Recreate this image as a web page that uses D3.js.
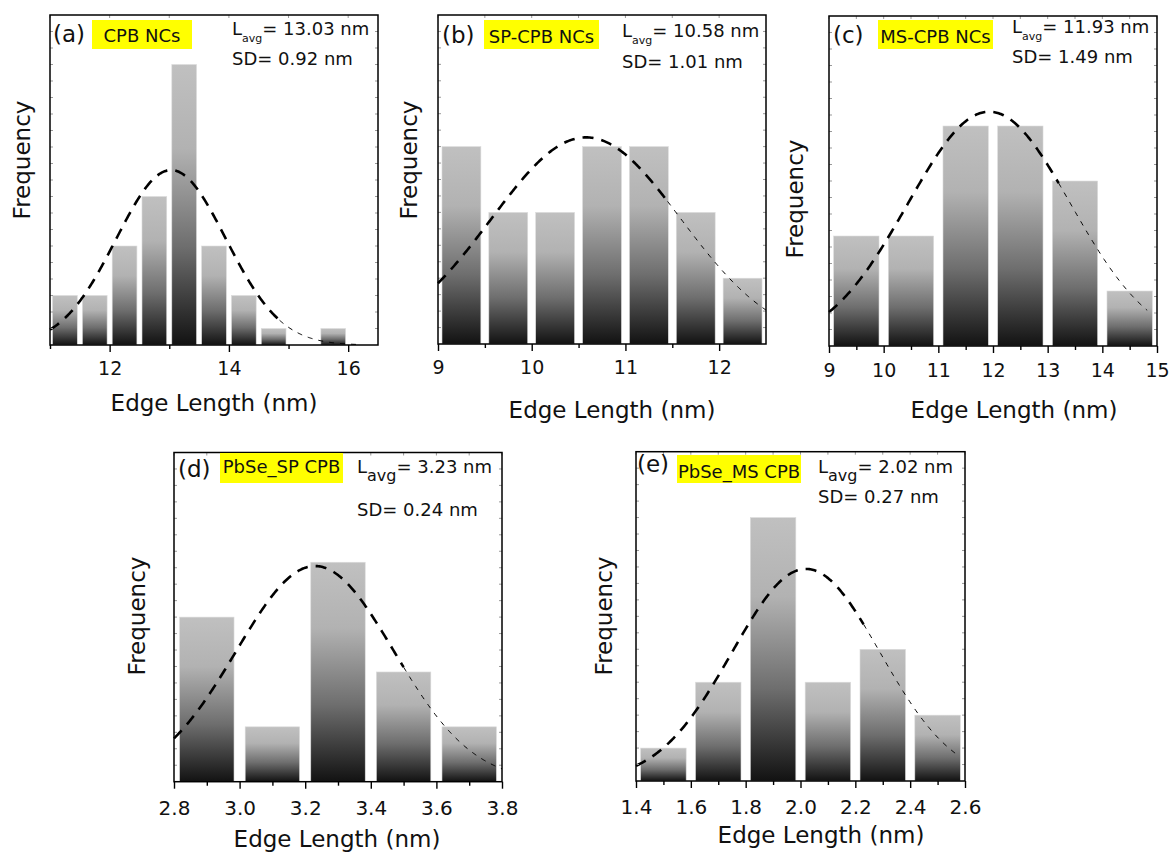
<!DOCTYPE html>
<html>
<head>
<meta charset="utf-8">
<script src="https://cdn.jsdelivr.net/npm/d3@7"></script>
<style>
  body { margin: 0; background: #fff; }
  svg text { font-family: "DejaVu Sans", Verdana, sans-serif; fill: #111; }
</style>
</head>
<body>
<script>
// ---- data ----
var panelTags   = ["(a)", "(b)", "(c)", "(d)", "(e)"];
var sampleNames = ["CPB NCs", "SP-CPB NCs", "MS-CPB NCs", "PbSe_SP CPB", "PbSe_MS CPB"];
var meanText    = ["13.03", "10.58", "11.93", "3.23", "2.02"];
var sdText      = ["0.92", "1.01", "1.49", "0.24", "0.27"];

var binStarts = [11, 9, 9, 2.8, 1.4];
var binWidths = [0.5, 0.5, 1, 0.2, 0.2];
var counts = [
    [3, 3, 6, 9, 17, 6, 3, 1, 0, 1],
    [3, 2, 2, 3, 3, 2, 1],
    [2, 2, 4, 4, 3, 1],
    [3, 1, 4, 2, 1],
    [1, 3, 8, 3, 4, 2]
];

var xDomains = [[11, 16.5], [9, 12.5], [9, 15], [2.8, 3.8], [1.4, 2.6]];
var yMax     = [20, 5, 6, 6, 10];
var xMajor = [
    [12, 14, 16],
    [9, 10, 11, 12],
    [9, 10, 11, 12, 13, 14, 15],
    [2.8, 3.0, 3.2, 3.4, 3.6, 3.8],
    [1.4, 1.6, 1.8, 2.0, 2.2, 2.4, 2.6]
];
var xMinor = [
    [11, 13, 15],
    [9.5, 10.5, 11.5],
    [9.5, 10.5, 11.5, 12.5, 13.5, 14.5],
    [2.9, 3.1, 3.3, 3.5, 3.7],
    [1.5, 1.7, 1.9, 2.1, 2.3, 2.5]
];
var xFormat = [d3.format("d"), d3.format("d"), d3.format("d"), d3.format(".1f"), d3.format(".1f")];
var yMinorStep = [1, 0.25, 0.3, 0.3, 0.5];

// gaussian fit: peak height, extent of the drawn curve
var fitPeak  = [10.6, 3.14, 4.26, 3.93, 6.44];
var fitRange = [[11, 16.2], [9, 12.5], [9, 14.82], [2.8, 3.8], [1.4, 2.57]];
var fitThinFrom = [14.85, 11.45, 13.2, 3.5, 2.23];

// ---- layout ----
var frames = [
    {left: 50,  right: 378,   top: 15,    bottom: 345},
    {left: 438, right: 766,   top: 15,    bottom: 344},
    {left: 829, right: 1157,  top: 16,    bottom: 346},
    {left: 174, right: 502,   top: 452.5, bottom: 781.7},
    {left: 636, right: 965,   top: 451.7, bottom: 781}
];
var labelPos = [
    {tag: [53, 42],  box: [92, 20, 100, 29],  name: 42,  lav: [232, 35], sub: 11, subDy: 7, sd: [232, 65],
     freq: [30, 160],  title: [214, 411],   tickFont: 19, tickOff: 30},
    {tag: [442, 43], box: [484, 20, 115, 29], name: 43,  lav: [622, 37], sub: 11, subDy: 7, sd: [622, 68],
     freq: [417, 160], title: [612, 418],   tickFont: 19, tickOff: 30},
    {tag: [833, 43], box: [878, 20, 115, 29], name: 43,  lav: [1012, 33], sub: 11, subDy: 7, sd: [1012, 63],
     freq: [803, 199], title: [1014, 418],  tickFont: 19, tickOff: 31},
    {tag: [178, 477], box: [220, 453, 123, 30], name: 473, lav: [357, 473], sub: 16, subDy: 8, sd: [357, 516],
     freq: [145, 616], title: [337, 847],   tickFont: 20, tickOff: 33},
    {tag: [637, 472], box: [677, 455, 124, 28], name: 478, lav: [818, 473], sub: 16, subDy: 8, sd: [818, 503],
     freq: [612, 616], title: [821, 843],   tickFont: 20, tickOff: 33}
];

var svg = d3.select("body").append("svg")
    .attr("width", 1172)
    .attr("height", 852);

var defs = svg.append("defs");
var grad = defs.append("linearGradient")
    .attr("id", "barGrad")
    .attr("x1", 0).attr("y1", 0).attr("x2", 0).attr("y2", 1);
[[0, "#c0c0c0"], [0.3, "#b2b2b2"], [0.65, "#6e6e6e"], [1, "#121212"]].forEach(function (s) {
    grad.append("stop").attr("offset", s[0]).attr("stop-color", s[1]);
});

panelTags.forEach(function (tag, i) {
    var f = frames[i], L = labelPos[i];
    var g = svg.append("g");

    var x = d3.scaleLinear().domain(xDomains[i]).range([f.left, f.right]);
    var y = d3.scaleLinear().domain([0, yMax[i]]).range([f.bottom, f.top]);
    var bw = binWidths[i];

    // bars
    var bins = counts[i].map(function (c, j) {
        return {x0: binStarts[i] + j * bw, c: c};
    }).filter(function (d) { return d.c > 0; });

    g.append("g").selectAll("rect")
        .data(bins)
        .enter().append("rect")
        .attr("x", function (d) { return x(d.x0 + bw * 0.085); })
        .attr("width", function (d) { return x(d.x0 + bw * 0.915) - x(d.x0 + bw * 0.085); })
        .attr("y", function (d) { return y(d.c); })
        .attr("height", function (d) { return y(0) - y(d.c); })
        .style("fill", "url(#barGrad)")
        .style("stroke", "#dcdcdc")
        .style("stroke-width", 0.6);

    // gaussian fit, thick dashes then thin dashes
    var mu = +meanText[i], sd = +sdText[i];
    var gauss = function (v) { return fitPeak[i] * Math.exp(-0.5 * Math.pow((v - mu) / sd, 2)); };
    var line = d3.line()
        .x(function (v) { return x(v); })
        .y(function (v) { return y(gauss(v)); });
    var lo = fitRange[i][0], hi = fitRange[i][1], cut = Math.min(fitThinFrom[i], hi);
    var thick = d3.range(lo, cut, (hi - lo) / 300).concat([cut]);
    var thin = d3.range(cut, hi, (hi - lo) / 300).concat([hi]);

    g.append("path")
        .attr("d", line(thick))
        .style("fill", "none")
        .style("stroke", "#000")
        .style("stroke-width", 2.6)
        .style("stroke-dasharray", "11,8");
    if (hi > cut) {
        g.append("path")
            .attr("d", line(thin))
            .style("fill", "none")
            .style("stroke", "#000")
            .style("stroke-width", 1)
            .style("stroke-dasharray", "5,6");
    }

    // faint inner ticks on left, right and top
    var yt = d3.range(yMinorStep[i], yMax[i], yMinorStep[i]);
    g.append("g").selectAll("line.yl")
        .data(yt).enter().append("line")
        .attr("x1", f.left).attr("x2", f.left + 3)
        .attr("y1", function (d) { return y(d); }).attr("y2", function (d) { return y(d); })
        .style("stroke", "#999").style("stroke-width", 1);
    g.append("g").selectAll("line.yr")
        .data(yt).enter().append("line")
        .attr("x1", f.right - 3).attr("x2", f.right)
        .attr("y1", function (d) { return y(d); }).attr("y2", function (d) { return y(d); })
        .style("stroke", "#999").style("stroke-width", 1);
    g.append("g").selectAll("line.xt")
        .data(xMajor[i].concat(xMinor[i])).enter().append("line")
        .attr("x1", function (d) { return x(d); }).attr("x2", function (d) { return x(d); })
        .attr("y1", f.top).attr("y2", f.top + 3)
        .style("stroke", "#999").style("stroke-width", 1);

    // bottom axis: major + minor
    var fs = L.tickFont;
    var axMaj = d3.axisBottom(x)
        .tickValues(xMajor[i])
        .tickFormat(xFormat[i])
        .tickSize(7)
        .tickSizeOuter(0)
        .tickPadding(L.tickOff - 7 - fs * 0.71);
    var ga = g.append("g")
        .attr("transform", "translate(0," + f.bottom + ")")
        .call(axMaj);
    ga.select(".domain").remove();
    ga.selectAll("line").style("stroke", "#000").style("stroke-width", 1.4);
    ga.selectAll("text")
        .style("font-size", fs + "px")
        .style("font-family", '"DejaVu Sans", Verdana, sans-serif')
        .style("fill", "#111");

    var gm = g.append("g")
        .attr("transform", "translate(0," + f.bottom + ")")
        .call(d3.axisBottom(x).tickValues(xMinor[i]).tickFormat("").tickSize(4).tickSizeOuter(0));
    gm.select(".domain").remove();
    gm.selectAll("line").style("stroke", "#000").style("stroke-width", 1.4);

    // frame
    g.append("rect")
        .attr("x", f.left).attr("y", f.top)
        .attr("width", f.right - f.left).attr("height", f.bottom - f.top)
        .style("fill", "none")
        .style("stroke", "#000")
        .style("stroke-width", 1.5);

    // labels
    g.append("text")
        .attr("x", L.tag[0]).attr("y", L.tag[1])
        .style("font-size", "23px")
        .text(tag);

    g.append("rect")
        .attr("x", L.box[0]).attr("y", L.box[1])
        .attr("width", L.box[2]).attr("height", L.box[3])
        .style("fill", "#ffff00");
    g.append("text")
        .attr("x", L.box[0] + L.box[2] / 2).attr("y", L.name)
        .attr("text-anchor", "middle")
        .style("font-size", "18px")
        .text(sampleNames[i]);

    var lav = g.append("text")
        .attr("x", L.lav[0]).attr("y", L.lav[1])
        .style("font-size", "18px");
    lav.append("tspan").text("L");
    lav.append("tspan")
        .attr("dy", L.subDy)
        .style("font-size", L.sub + "px")
        .text("avg");
    lav.append("tspan")
        .attr("dy", -L.subDy)
        .text("= " + meanText[i] + " nm");

    g.append("text")
        .attr("x", L.sd[0]).attr("y", L.sd[1])
        .style("font-size", "18px")
        .text("SD= " + sdText[i] + " nm");

    g.append("text")
        .attr("transform", "translate(" + L.freq[0] + "," + L.freq[1] + ") rotate(-90)")
        .attr("text-anchor", "middle")
        .style("font-size", "23px")
        .text("Frequency");

    g.append("text")
        .attr("x", L.title[0]).attr("y", L.title[1])
        .attr("text-anchor", "middle")
        .style("font-size", "23px")
        .text("Edge Length (nm)");
});
</script>
</body>
</html>
